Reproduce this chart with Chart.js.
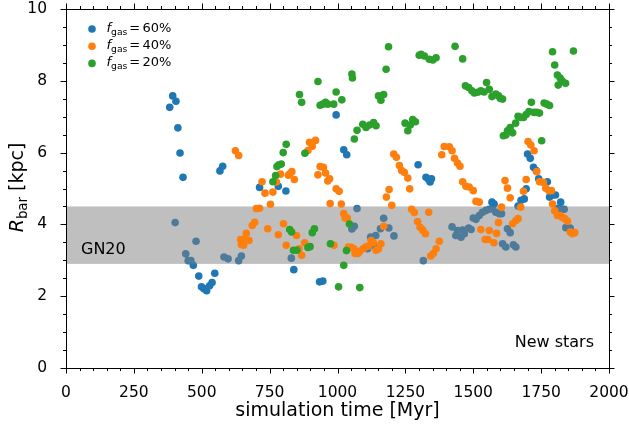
<!DOCTYPE html>
<html>
<head>
<meta charset="utf-8">
<script src="https://cdn.jsdelivr.net/npm/chart.js@4/dist/chart.umd.min.js"></script>
<style>
  html, body { margin: 0; padding: 0; background: #fff; }
  #wrap { width: 629px; height: 424px; }
</style>
</head>
<body>
<div id="wrap"><canvas id="bar-chart" width="629" height="424"></canvas></div>
<script>
// values (time in Myr, bar radius in kpc)
const t60 = [382, 393, 402, 405, 412, 420, 431, 441, 450, 460, 469, 479, 489, 499, 508, 518, 529, 538, 548,
  567, 577, 582, 597, 636, 646, 713, 782, 810, 830, 839, 934, 946, 995, 1023, 1034, 1053, 1062, 1072,
  1111, 1122, 1133, 1141, 1158, 1170, 1189, 1208, 1297, 1316, 1326, 1336, 1341, 1346, 1422, 1436, 1442,
  1455, 1461, 1467, 1483, 1492, 1500, 1510, 1522, 1534, 1547, 1559, 1569, 1571, 1577, 1583, 1596, 1604,
  1608, 1620, 1626, 1636, 1648, 1657, 1665, 1676, 1688, 1695, 1700, 1710, 1722, 1732, 1741, 1773, 1781,
  1792, 1803, 1810, 1822, 1828, 1835, 1841, 1857];
const r60 = [7.26, 7.58, 4.05, 7.43, 6.69, 5.99, 5.31, 3.18, 2.99, 2.99, 2.86, 3.53, 2.56, 2.26, 2.21, 2.15, 2.29, 2.38, 2.64,
  5.49, 5.62, 3.09, 3.04, 2.99, 3.12, 5.03, 5.06, 4.93, 3.06, 2.74, 2.40, 2.42, 7.05, 6.08, 5.94, 3.87, 3.95, 4.44,
  3.32, 3.65, 3.42, 3.69, 3.88, 4.17, 3.90, 3.68, 5.66, 2.99, 5.31, 5.25, 5.18, 5.27, 3.93, 3.69, 3.83,
  3.64, 3.84, 3.74, 3.90, 3.86, 4.18, 4.14, 4.25, 4.34, 4.39, 4.42, 4.62, 4.44, 4.57, 4.34, 4.30, 4.30,
  3.46, 3.37, 3.88, 3.77, 3.43, 3.37, 4.51, 4.67, 4.71, 4.99, 5.96, 5.84, 5.59, 5.50, 5.27, 5.19, 4.76,
  4.82, 4.82, 4.44, 4.62, 4.42, 4.42, 3.91, 3.90];

const t40 = [624, 636, 643, 646, 652, 654, 664, 674, 686, 695, 701, 713, 722, 733, 743, 753, 762, 775, 782, 790,
  801, 811, 819, 824, 832, 841, 849, 858, 868, 879, 891, 897, 907, 919, 928, 936, 948, 956, 964, 971, 973,
  987, 995, 1006, 1014, 1023, 1028, 1036, 1040, 1050, 1060, 1065, 1070, 1075, 1082, 1094, 1104, 1114, 1124,
  1132, 1142, 1151, 1160, 1170, 1180, 1190, 1200, 1207, 1217, 1228, 1236, 1246, 1259, 1266, 1273, 1283,
  1295, 1304, 1314, 1324, 1336, 1343, 1353, 1363, 1375, 1384, 1393, 1412, 1422, 1431, 1442, 1451, 1461,
  1473, 1485, 1500, 1510, 1522, 1528, 1544, 1554, 1559, 1576, 1586, 1593, 1604, 1617, 1626, 1636, 1645,
  1657, 1665, 1675, 1685, 1695, 1702, 1712, 1724, 1734, 1744, 1758, 1767, 1779, 1788, 1792, 1800, 1810,
  1820, 1828, 1837, 1847, 1857, 1865, 1874];
const r40 = [6.05, 5.92, 3.58, 3.44, 3.58, 3.42, 3.75, 3.55, 3.97, 4.06, 4.44, 4.45, 5.19, 4.87, 3.88, 4.56, 4.90, 5.18, 3.71, 5.40,
  4.02, 3.42, 5.37, 5.41, 5.47, 5.25, 3.69, 3.32, 3.14, 3.49, 6.06, 6.29, 6.18, 6.34, 5.38, 5.61, 5.59, 5.43, 5.21, 5.27, 4.58,
  3.42, 4.99, 4.92, 4.57, 4.30, 4.18, 4.18, 3.37, 3.36, 3.32, 3.19, 3.23, 3.19, 3.25, 3.32, 3.37, 3.40, 3.55,
  3.49, 3.28, 3.32, 3.46, 3.95, 4.76, 4.97, 4.53, 5.96, 5.87, 5.64, 5.50, 5.45, 5.29, 4.99, 4.42, 4.33,
  4.08, 3.92, 3.84, 3.74, 4.34, 3.12, 3.19, 3.32, 3.53, 5.94, 6.17, 6.16, 6.05, 5.84, 5.71, 5.62, 5.19,
  5.06, 5.04, 4.94, 4.64, 4.62, 3.86, 3.58, 3.58, 3.83, 3.49, 3.75, 4.05, 4.48, 5.22, 5.01, 4.74, 4.02,
  4.11, 4.16, 4.48, 4.92, 5.25, 6.31, 6.21, 6.05, 5.47, 5.19, 5.17, 5.01, 4.94, 4.94, 4.57, 4.38, 4.25,
  4.25, 4.20, 4.16, 4.09, 3.79, 3.74, 3.77];

const t20 = [762, 772, 777, 784, 793, 800, 811, 824, 831, 838, 850, 860, 868, 880, 891, 899, 907, 915, 928, 936,
  946, 956, 964, 974, 986, 995, 1004, 1016, 1023, 1033, 1044, 1053, 1055, 1062, 1072, 1082, 1093, 1105, 1118,
  1133, 1142, 1151, 1160, 1170, 1179, 1188, 1249, 1259, 1268, 1277, 1287, 1301, 1308, 1320, 1338, 1351, 1363,
  1433, 1461, 1471, 1483, 1495, 1504, 1516, 1528, 1540, 1549, 1559, 1569, 1583, 1593, 1600, 1608, 1611, 1620,
  1626, 1636, 1645, 1656, 1665, 1675, 1685, 1695, 1705, 1714, 1724, 1734, 1744, 1752, 1761, 1771, 1781, 1792,
  1800, 1810, 1813, 1820, 1828, 1840, 1869];
const r20 = [5.19, 5.36, 5.61, 5.66, 5.68, 6.00, 6.23, 3.86, 3.79, 3.28, 3.28, 7.62, 7.40, 5.98, 3.36, 3.38, 3.77, 3.88, 7.98, 7.32,
  7.35, 7.40, 7.35, 3.46, 7.35, 7.69, 2.26, 7.47, 2.86, 3.27, 4.01, 8.19, 8.08, 6.38, 6.62, 2.24, 6.79, 6.70, 6.77,
  6.84, 6.75, 7.58, 7.46, 7.62, 8.32, 8.95, 6.82, 6.61, 6.77, 6.92, 6.86, 8.71, 8.74, 8.69, 8.60, 8.58, 8.64,
  8.96, 8.61, 7.86, 7.81, 7.72, 7.66, 7.68, 7.72, 7.69, 7.95, 7.76, 7.56, 7.63, 7.58, 7.51, 7.49, 6.47, 6.49,
  6.61, 6.70, 6.55, 6.82, 7.01, 6.98, 6.98, 7.06, 7.14, 7.40, 7.12, 7.12, 7.10, 6.33, 7.38, 7.35, 7.31, 8.81,
  8.44, 8.16, 7.88, 8.08, 7.99, 7.93, 8.83];

const gasLabels = ["60%", "40%", "20%"];
const colors = ["#1f77b4", "#ff7f0e", "#2ca02c"];
const gn20Band = [2.9, 4.5];

const FONT = "'DejaVu Sans', sans-serif";

function toPoints(ts, rs) {
  return ts.map((t, i) => ({ x: t, y: rs[i] }));
}

// draws band, ticks, frame, legend and free texts the way the matplotlib figure has them
const decor = {
  id: "decor",
  afterDatasetDraw(chart, args) {
    if (args.index !== 0) return; // band sits above the 60% points only
    const { ctx, chartArea: a, scales } = chart;
    const y1 = scales.y.getPixelForValue(gn20Band[1]);
    const y0 = scales.y.getPixelForValue(gn20Band[0]);
    ctx.save();
    ctx.fillStyle = "rgba(128,128,128,0.5)";
    ctx.fillRect(a.left, y1, a.right - a.left, y0 - y1);
    ctx.restore();
  },
  afterDraw(chart) {
    const { ctx, chartArea: a, scales } = chart;
    const x = scales.x, y = scales.y;
    ctx.save();
    ctx.strokeStyle = "#000";
    ctx.lineWidth = 1;

    ctx.beginPath();
    for (let v = 0; v <= 2000; v += 50) {
      const px = Math.round(x.getPixelForValue(v)) + 0.5;
      const len = v % 250 === 0 ? 5.5 : 3;
      ctx.moveTo(px, a.bottom); ctx.lineTo(px, a.bottom + len);
      ctx.moveTo(px, a.top); ctx.lineTo(px, a.top - len);
    }
    for (let v = 0; v <= 10; v += 0.5) {
      const py = Math.round(y.getPixelForValue(v)) + 0.5;
      const len = v % 2 === 0 ? 5.5 : 3;
      ctx.moveTo(a.left, py); ctx.lineTo(a.left - len, py);
      ctx.moveTo(a.right, py); ctx.lineTo(a.right + len, py);
    }
    ctx.stroke();
    ctx.strokeRect(Math.round(a.left) + 0.5, Math.round(a.top) + 0.5,
      Math.round(a.right - a.left), Math.round(a.bottom - a.top));

    ctx.fillStyle = "#000";
    ctx.textBaseline = "alphabetic";

    // legend
    gasLabels.forEach((lab, i) => {
      const cy = 29 + i * 17.2;
      ctx.fillStyle = colors[i];
      ctx.beginPath();
      ctx.arc(92, cy, 3.8, 0, Math.PI * 2);
      ctx.fill();
      ctx.fillStyle = "#000";
      const bx = 106.5, by = cy + 3;
      ctx.textAlign = "left";
      ctx.font = "oblique 13px " + FONT;
      ctx.fillText("f", bx, by);
      ctx.font = "9.2px " + FONT;
      ctx.fillText("gas", bx + 4.6, by + 2.6);
      ctx.font = "13px " + FONT;
      ctx.fillText("=", bx + 22.7, by);
      ctx.fillText(lab, bx + 36, by);
    });

    ctx.font = "16px " + FONT;
    ctx.textAlign = "left";
    ctx.fillText("GN20", 81, 253.5);
    ctx.textAlign = "right";
    ctx.fillText("New stars", 594, 346.5);

    ctx.textAlign = "center";
    ctx.font = "19px " + FONT;
    ctx.fillText("simulation time [Myr]", (a.left + a.right) / 2, 416);

    // y title, rotated: R_bar [kpc]
    ctx.translate(23, 187.5);
    ctx.rotate(-Math.PI / 2);
    ctx.textAlign = "left";
    const parts = [["oblique 19px ", "R", 0], ["13.3px ", "bar", 3.8], ["19px ", " [kpc]", 0]];
    let w = 0;
    parts.forEach(p => { ctx.font = p[0] + FONT; w += ctx.measureText(p[1]).width; });
    let cx = -w / 2;
    parts.forEach(p => {
      ctx.font = p[0] + FONT;
      ctx.fillText(p[1], cx, p[2]);
      cx += ctx.measureText(p[1]).width;
    });
    ctx.restore();
  }
};

new Chart(document.getElementById("bar-chart"), {
  type: "scatter",
  data: {
    datasets: [
      { label: "60%", data: toPoints(t60, r60), backgroundColor: colors[0], order: 3 },
      { label: "40%", data: toPoints(t40, r40), backgroundColor: colors[1], order: 2 },
      { label: "20%", data: toPoints(t20, r20), backgroundColor: colors[2], order: 1 }
    ]
  },
  options: {
    responsive: false,
    animation: false,
    devicePixelRatio: 1,
    elements: { point: { radius: 3.8, borderWidth: 0, hoverRadius: 3.8 } },
    layout: { padding: { top: 9, right: 20, left: 0, bottom: 0 } },
    plugins: { legend: { display: false }, tooltip: { enabled: false } },
    scales: {
      x: {
        type: "linear", min: 0, max: 2000,
        grid: { display: false }, border: { display: false },
        ticks: {
          stepSize: 250, padding: 8, color: "#000", font: { family: FONT, size: 15.5 }, maxRotation: 0,
          callback: v => String(v)
        },
        afterFit(s) { s.height = 56; s.paddingLeft = 0; s.paddingRight = 0; }
      },
      y: {
        type: "linear", min: 0, max: 10,
        grid: { display: false }, border: { display: false },
        ticks: { stepSize: 2, padding: 11, color: "#000", font: { family: FONT, size: 15.5 } },
        afterFit(s) { s.width = 66; s.paddingTop = 0; s.paddingBottom = 0; }
      }
    }
  },
  plugins: [decor]
});
</script>
</body>
</html>
